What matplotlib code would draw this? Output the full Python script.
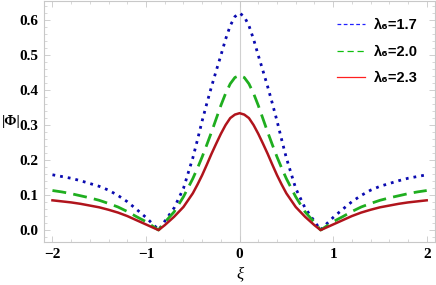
import numpy as np
import matplotlib
matplotlib.use("Agg")
import matplotlib.pyplot as plt
from matplotlib.lines import Line2D
from matplotlib.ticker import MultipleLocator, FuncFormatter

# values
xi = [-2.0, -1.9, -1.8, -1.7, -1.6, -1.5, -1.4, -1.3, -1.2, -1.1, -1.0, -0.9, -0.866,
      -0.8, -0.7, -0.6, -0.5, -0.45, -0.4, -0.35, -0.3, -0.25, -0.2, -0.15, -0.1, -0.05, 0.0,
      0.05, 0.1, 0.15, 0.2, 0.25, 0.3, 0.35, 0.4, 0.45, 0.5, 0.6, 0.7, 0.8,
      0.866, 0.9, 1.0, 1.1, 1.2, 1.3, 1.4, 1.5, 1.6, 1.7, 1.8, 1.9, 2.0]

phi_17 = [0.158, 0.153, 0.148, 0.141, 0.133, 0.125, 0.114, 0.099, 0.081, 0.059, 0.036, 0.010, 0.0,
          0.025, 0.063, 0.119, 0.206, 0.258, 0.312, 0.362, 0.410, 0.455, 0.499, 0.545, 0.584, 0.610, 0.620,
          0.610, 0.584, 0.545, 0.499, 0.455, 0.410, 0.362, 0.312, 0.258, 0.206, 0.119, 0.063, 0.025,
          0.0, 0.010, 0.036, 0.059, 0.081, 0.099, 0.114, 0.125, 0.133, 0.141, 0.148, 0.153, 0.158]

phi_20 = [0.113, 0.109, 0.104, 0.098, 0.092, 0.085, 0.076, 0.066, 0.053, 0.038, 0.024, 0.006, 0.0,
          0.022, 0.052, 0.095, 0.147, 0.177, 0.209, 0.244, 0.280, 0.318, 0.356, 0.390, 0.418, 0.436, 0.442,
          0.436, 0.418, 0.390, 0.356, 0.318, 0.280, 0.244, 0.209, 0.177, 0.147, 0.095, 0.052, 0.022,
          0.0, 0.006, 0.024, 0.038, 0.053, 0.066, 0.076, 0.085, 0.092, 0.098, 0.104, 0.109, 0.113]

phi_23 = [0.085, 0.082, 0.079, 0.075, 0.070, 0.065, 0.058, 0.050, 0.040, 0.028, 0.016, 0.004, 0.0,
          0.014, 0.038, 0.066, 0.105, 0.130, 0.157, 0.187, 0.218, 0.247, 0.275, 0.300, 0.320, 0.330, 0.334,
          0.330, 0.320, 0.300, 0.275, 0.247, 0.218, 0.187, 0.157, 0.130, 0.105, 0.066, 0.038, 0.014,
          0.0, 0.004, 0.016, 0.028, 0.040, 0.050, 0.058, 0.065, 0.070, 0.075, 0.079, 0.082, 0.085]

labels = ["λ₆=1.7", "λ₆=2.0", "λ₆=2.3"]

fig = plt.figure(figsize=(4.36, 2.85), dpi=100)
ax = fig.add_axes([0.101, 0.151, 0.897, 0.846])

frame = "#c8c8c8"
ax.axvline(0, color="#d0d0d0", lw=0.8, zorder=0)

ax.plot(xi, phi_17, color="#0a0ab0", lw=2.0, dashes=(1.0, 1.8))
ax.plot(xi, phi_20, color="#1fae1f", lw=2.0, dashes=(5.0, 2.6))
ax.plot(xi, phi_23, color="#b0141c", lw=1.8)

ax.set_xlim(-2.09, 2.09)
ax.set_ylim(-0.034, 0.655)

ax.xaxis.set_major_locator(MultipleLocator(1))
ax.xaxis.set_minor_locator(MultipleLocator(0.2))
ax.yaxis.set_major_locator(MultipleLocator(0.1))
ax.yaxis.set_minor_locator(MultipleLocator(0.02))
ax.xaxis.set_major_formatter(FuncFormatter(lambda v, p: f"{v:.0f}".replace("-", "\u2212")))
ax.yaxis.set_major_formatter(FuncFormatter(lambda v, p: f"{v:.1f}"))

for s in ax.spines.values():
    s.set_color(frame)
    s.set_linewidth(0.8)
ax.tick_params(which="both", direction="in", top=True, right=True, colors=frame,
               labelcolor="black")
ax.tick_params(which="major", length=4, width=0.6, pad=4)
ax.tick_params(which="minor", length=2, width=0.5)
for lab in ax.get_xticklabels() + ax.get_yticklabels():
    lab.set_family("Liberation Serif")
    lab.set_weight("bold")
    lab.set_fontsize(11)

ax.set_xlabel("ξ", family="Liberation Serif", style="italic", fontsize=12, labelpad=4)
ax.set_ylabel("|Φ|", family="Liberation Serif", weight="bold", fontsize=10.5,
              rotation=0, labelpad=6, va="center")

handles = [Line2D([], [], color="#2020ff", lw=0.9, dashes=(3, 2)),
           Line2D([], [], color="#10c010", lw=0.9, dashes=(5, 3)),
           Line2D([], [], color="#ff2020", lw=0.9)]
leg = ax.legend(handles, labels, loc="upper right", frameon=False, handlelength=1.9,
                labelspacing=0.85, handletextpad=0.6, borderaxespad=0.8,
                prop={"family": ["Liberation Sans", "DejaVu Sans"], "weight": "bold", "size": 10.5})

fig.savefig("out.png", dpi=100)
